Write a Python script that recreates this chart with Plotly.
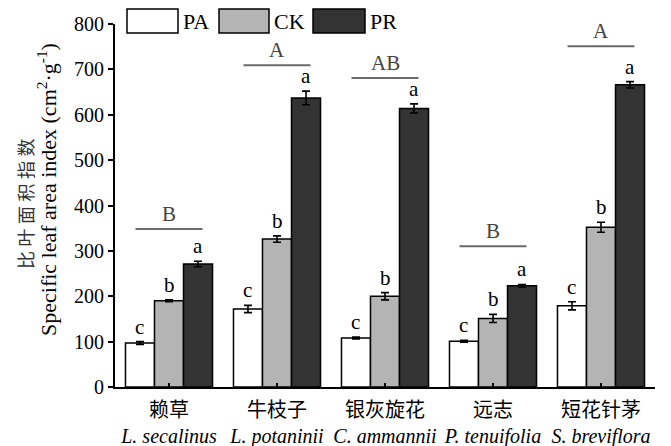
import plotly.graph_objects as go

# ---- data ----
species_cn = ["赖草", "牛枝子", "银灰旋花", "远志", "短花针茅"]
species_la = ["L. secalinus", "L. potaninii", "C. ammannii", "P. tenuifolia", "S. breviflora"]
series_names = ["PA", "CK", "PR"]
pa_vals = [97, 172, 108, 101, 179]
ck_vals = [190, 326, 200, 151, 352]
pr_vals = [271, 637, 614, 223, 666]
pa_err = [3, 8, 2, 2, 9]
ck_err = [2, 7, 8, 9, 11]
pr_err = [6, 15, 10, 3, 7]
pa_letters = ["c", "c", "c", "c", "c"]
ck_letters = ["b", "b", "b", "b", "b"]
pr_letters = ["a", "a", "a", "a", "a"]
group_letters = ["B", "A", "AB", "B", "A"]
group_line_y = [348, 709, 681, 310, 751]
y_ticks = [0, 100, 200, 300, 400, 500, 600, 700, 800]
y_title_cn = "比叶面积指数"
y_title_en = "Specific leaf area index (cm<sup>2</sup>·g<sup>-1</sup>)"

colors = ["#ffffff", "#b4b4b4", "#333333"]
FONT = "Liberation Serif, Noto Sans CJK SC, serif"

tick_text = [f"{c}<br><i>{l}</i>" for c, l in zip(species_cn, species_la)]
xcats = list(range(len(species_cn)))

fig = go.Figure()
vals = [pa_vals, ck_vals, pr_vals]
errs = [pa_err, ck_err, pr_err]
letters = [pa_letters, ck_letters, pr_letters]
for name, v, e, c in zip(series_names, vals, errs, colors):
    fig.add_trace(go.Bar(
        x=xcats, y=v, name=name,
        marker=dict(color=c, line=dict(color="black", width=1.5)),
        error_y=dict(type="data", array=e, color="black", thickness=1.6, width=4),
        showlegend=False, hoverinfo="skip",
    ))

bargap = 0.194
bar_w = (1 - bargap) / 3

annotations = []
for j in range(3):
    for i in xcats:
        annotations.append(dict(
            x=i + (j - 1) * bar_w, y=vals[j][i] + errs[j][i], xref="x", yref="y",
            text=letters[j][i], showarrow=False, yanchor="bottom", yshift=1,
            font=dict(family=FONT, size=21, color="black")))

shapes = []
half = 0.31
for i in xcats:
    shapes.append(dict(type="line", xref="x", yref="y",
                       x0=i - half, x1=i + half, y0=group_line_y[i], y1=group_line_y[i],
                       line=dict(color="#6a6a6a", width=2)))
    annotations.append(dict(x=i, y=group_line_y[i], xref="x", yref="y",
                            text=group_letters[i], showarrow=False, yanchor="bottom", yshift=1,
                            font=dict(family=FONT, size=21, color="#444444")))

# custom legend (large swatches)
plot_w, plot_h = 540, 363
def px_x(p):
    return (p - 115) / plot_w
def px_y(p):
    return (387 - p) / plot_h

legend_boxes = [(127, 178), (219, 269), (313, 365)]
for (x0, x1), c, name in zip(legend_boxes, colors, series_names):
    shapes.append(dict(type="rect", xref="paper", yref="paper",
                       x0=px_x(x0), x1=px_x(x1), y0=px_y(33), y1=px_y(9),
                       fillcolor=c, line=dict(color="black", width=1.5)))
    annotations.append(dict(x=px_x(x1 + 3), y=px_y(21), xref="paper", yref="paper",
                            text=name, showarrow=False, xanchor="left", yanchor="middle",
                            font=dict(family=FONT, size=22, color="black")))

# y-axis titles (two lines)
annotations.append(dict(x=px_x(27), y=px_y(204), xref="paper", yref="paper",
                        text=" ".join(y_title_cn), textangle=-90, showarrow=False,
                        xanchor="center", yanchor="middle",
                        font=dict(family=FONT, size=18, color="#333333")))
annotations.append(dict(x=px_x(47), y=px_y(190), xref="paper", yref="paper",
                        text=y_title_en,
                        textangle=-90, showarrow=False, xanchor="center", yanchor="middle",
                        font=dict(family=FONT, size=22, color="black")))

fig.update_layout(
    width=671, height=446,
    margin=dict(l=115, r=16, t=24, b=59, autoexpand=False),
    barmode="group", bargap=bargap, bargroupgap=0,
    plot_bgcolor="white", paper_bgcolor="white",
    font=dict(family=FONT, size=19, color="black"),
    shapes=shapes, annotations=annotations,
    xaxis=dict(range=[-0.5, 4.5], tickvals=xcats, ticktext=tick_text,
               showline=True, linecolor="black", linewidth=2,
               ticks="inside", ticklen=4, tickwidth=1.5, tickcolor="black",
               showgrid=False, zeroline=False, ticklabelstandoff=4, automargin=False,
               tickfont=dict(family=FONT, size=20, color="black")),
    yaxis=dict(range=[0, 800], tickvals=y_ticks,
               showline=True, linecolor="black", linewidth=2,
               ticks="outside", ticklen=5, tickwidth=1.5, tickcolor="black",
               showgrid=False, zeroline=False, automargin=False,
               tickfont=dict(family=FONT, size=20, color="black")),
)

fig.write_html("out.html", config={"displayModeBar": False},
               post_script="document.body.style.margin='0';document.body.style.overflow='hidden';")
